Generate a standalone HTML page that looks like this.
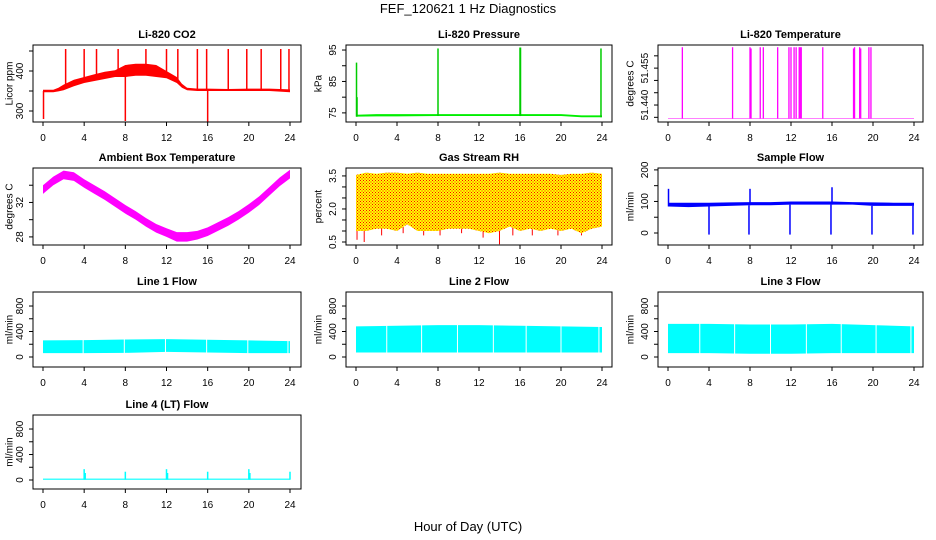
<!DOCTYPE html>
<html><head><meta charset="utf-8"><style>
body{margin:0;background:#fff}
svg{display:block;font-family:"Liberation Sans",sans-serif}
</style></head><body>
<svg id="c" width="936" height="540" viewBox="0 0 936 540">
<defs>
<pattern id="rhdots" width="3" height="3" patternUnits="userSpaceOnUse">
<rect width="3" height="3" fill="#ffff00"/><rect x="0" y="0" width="1" height="1" fill="#ff0000"/><rect x="1.5" y="1.5" width="1" height="1" fill="#ff0000"/>
</pattern>
</defs>
<text x="468" y="13" text-anchor="middle" font-size="13">FEF_120621  1 Hz Diagnostics</text>
<text x="468" y="531" text-anchor="middle" font-size="13">Hour of Day (UTC)</text>
</svg>
<script>
// ---- data ----
const xTicks = [0,4,8,12,16,20,24];
const co2Hours = [0,1,1.5,2,3,4,5,6,7,8,9,10,11,12,13,13.5,14,15,16,18,20,22,24];
const co2Lo = [347,347,349,352,362,370,375,380,385,385,388,388,385,382,370,358,352,350,350,350,350,350,347];
const co2Hi = [353,353,358,366,378,385,392,398,402,415,418,418,415,400,385,368,358,356,356,355,356,356,354];
const co2SpikeHours = [0.05,2.2,4.0,5.2,7.3,8.0,10.0,12.0,13.1,15.0,15.9,16.0,18.0,19.8,21.2,23.1,23.9];
const co2SpikeVals = [280,455,455,455,455,275,455,455,455,455,455,270,455,455,455,455,455];
const presHours = [0,2,4,8,12,16,20,22,24];
const presLo = [73.8,73.9,73.9,74,74,74,74,73.6,73.6];
const presHi = [74.4,74.6,74.6,74.6,74.6,74.6,74.6,74.2,74.2];
const presSpikeHours = [0.05,0.1,8.0,16.0,16.05,23.9];
const presSpikeVals = [91,80,95.5,95.8,95.8,95.5];
const ltHours = [0,24];
const ltBase = [51.4345,51.4345];
const ltSpikeHours = [1.4,6.3,8.0,8.1,9.0,9.3,10.7,11.8,12.0,12.3,12.5,12.8,12.9,13.0,15.1,18.1,18.2,18.7,18.8,19.6,19.8];
const ltSpikeVals = [51.4635,51.4635,51.4635,51.463,51.4635,51.4635,51.4635,51.4635,51.4635,51.4635,51.4635,51.4635,51.4635,51.4635,51.4635,51.463,51.4635,51.4635,51.463,51.4635,51.4635];
const tempHours = [0,1,2,3,4,5,6,7,8,9,10,11,12,13,14,15,16,17,18,19,20,21,22,23,24];
const tempMid = [33.5,34.5,35.2,35.0,34.2,33.5,32.8,32.0,31.2,30.5,29.7,29.0,28.5,28.0,28.0,28.2,28.6,29.2,29.8,30.5,31.3,32.2,33.3,34.4,35.3];
const tempHalf = [0.5,0.5,0.5,0.5,0.5,0.5,0.5,0.5,0.5,0.5,0.5,0.5,0.5,0.55,0.55,0.5,0.5,0.5,0.5,0.5,0.5,0.5,0.5,0.5,0.5];
const rhHours = [0,1,2,3,4,5,6,7,8,9,10,11,12,13,14,15,16,17,18,19,20,21,22,23,24];
const rhLo = [1.0,1.0,1.1,1.1,1.0,1.3,1.0,1.0,1.0,1.1,1.1,1.1,1.0,0.9,1.0,1.2,1.0,1.1,1.0,1.1,1.0,1.1,0.9,1.1,1.2];
const rhHi = [3.55,3.65,3.6,3.65,3.65,3.6,3.65,3.6,3.6,3.6,3.6,3.6,3.6,3.6,3.65,3.6,3.6,3.6,3.6,3.6,3.55,3.6,3.6,3.65,3.6];
const rhSpikeHours = [0.1,0.8,2.5,4.6,6.6,8.2,10.3,12.4,14.0,15.3,17.2,19.7,22.0];
const rhSpikeVals = [0.6,0.5,0.8,0.9,0.8,0.8,0.9,0.7,0.4,0.8,0.8,0.8,0.8];
const sfHours = [0,2,4,6,8,10,12,14,16,18,20,22,24];
const sfLo = [84,82,84,86,88,88,90,90,90,90,86,86,86];
const sfHi = [96,96,96,97,98,98,100,100,100,98,97,96,96];
const sfSpikeHours = [0.05,4.0,7.9,8.0,11.9,15.9,16.0,19.9,23.9];
const sfSpikeVals = [140,-5,-5,140,-5,-5,145,-5,-5];
const l1Hours = [0,4,8,12,16,20,24];
const l1Lo = [60,60,65,80,70,60,60];
const l1Hi = [260,265,275,280,270,260,250];
const l1GapHours = [3.9,7.9,11.9,15.9,19.9,23.8];
const l2Hours = [0,4,8,12,16,20,24];
const l2Lo = [70,70,70,70,70,70,70];
const l2Hi = [480,490,500,500,490,480,470];
const l2GapHours = [3.0,6.4,9.9,13.4,16.6,20.0,23.7];
const l3Hours = [0,4,8,12,16,20,24];
const l3Lo = [60,60,50,50,60,60,60];
const l3Hi = [520,520,510,510,520,500,480];
const l3GapHours = [3.1,6.5,10.0,13.5,16.9,20.3,23.7];
const l4Hours = [0,24];
const l4Lo = [5,5];
const l4Hi = [22,22];
const l4SpikeHours = [4.0,4.1,8.0,12.0,12.1,16.0,20.0,20.1,24.0];
const l4SpikeVals = [170,110,130,170,110,130,170,110,130];

// ---- layout ----
const NS="http://www.w3.org/2000/svg";
const svg=document.getElementById('c');
const cols=[{l:33,r:301,x0:43,x24:290,yl:10},{l:346,r:612,x0:356,x24:602,yl:319},{l:658,r:923,x0:668,x24:914,yl:631}];
const rows=[{t:45,b:122},{t:168,b:245},{t:292,b:367},{t:415,b:489}];
function mk(tag,attrs,parent){const e=document.createElementNS(NS,tag);for(const k in attrs)e.setAttribute(k,attrs[k]);(parent||svg).appendChild(e);return e;}

function panel(ci,ri,title,ylab,ymin,ymax,yticks,ylabels,name){
  const c=cols[ci],r=rows[ri];
  const g=mk('g',{});
  
  
  const xs=h=>c.x0+(c.x24-c.x0)*h/24;
  const ys=v=>r.b-(v-ymin)/(ymax-ymin)*(r.b-r.t);
  const t=mk('text',{x:(c.l+c.r)/2,y:r.t-7,'text-anchor':'middle','font-size':11,'font-weight':'bold'},g);
  t.textContent=title;
  
  
  const yl=mk('text',{x:c.yl,y:(r.t+r.b)/2,'text-anchor':'middle','font-size':10,transform:`rotate(-90 ${c.yl} ${(r.t+r.b)/2})`,'dominant-baseline':'middle'},g);
  yl.textContent=ylab;
  
  
  xTicks.forEach(h=>{
    mk('line',{x1:xs(h),x2:xs(h),y1:r.b,y2:r.b+4,stroke:'#000'},g);
    const tl=mk('text',{x:xs(h),y:r.b+19,'text-anchor':'middle','font-size':10},g);
    tl.textContent=h;
    
    
  });
  yticks.forEach(v=>{
    mk('line',{x1:c.l-4,x2:c.l,y1:ys(v),y2:ys(v),stroke:'#000'},g);
  });
  ylabels.forEach(s=>{
    const v=Number(s);
    const x=c.l-10,y=ys(v);
    const tl=mk('text',{x:x,y:y,'text-anchor':'middle','font-size':10,transform:`rotate(-90 ${x} ${y})`},g);
    tl.textContent=s;
    
    
  });
  const clipId='clip'+name;
  const cp=mk('clipPath',{id:clipId},g);mk('rect',{x:c.l,y:r.t,width:c.r-c.l,height:r.b-r.t},cp);
  const plot=mk('g',{'clip-path':`url(#${clipId})`},g);
  const box=mk('rect',{x:c.l,y:r.t,width:c.r-c.l,height:r.b-r.t,fill:'none',stroke:'#000'},g);
  
  
  return {g:plot,xs,ys,name};
}
function band(p,hours,lo,hi,fill){
  let pts=hours.map((h,i)=>p.xs(h)+','+p.ys(hi[i]));
  for(let i=hours.length-1;i>=0;i--)pts.push(p.xs(hours[i])+','+p.ys(lo[i]));
  const e=mk('polygon',{points:pts.join(' '),fill:fill},p.g);
  
  
}
function spikes(p,hours,vals,baseHours,baseVals,color,w){
  hours.forEach((h,i)=>{
    let j=0;while(j<baseHours.length-2&&baseHours[j+1]<h)j++;
    const f=(h-baseHours[j])/(baseHours[j+1]-baseHours[j]);
    const b=baseVals[j]+(baseVals[j+1]-baseVals[j])*f;
    const e=mk('line',{x1:p.xs(h),x2:p.xs(h),y1:p.ys(b),y2:p.ys(vals[i]),stroke:color,'stroke-width':w||1.5},p.g);
    
    
  });
}
function gaps(p,hours){
  hours.forEach(h=>{
    const e=mk('line',{x1:p.xs(h),x2:p.xs(h),y1:p.ys(-200),y2:p.ys(2000),stroke:'#fff','stroke-width':1},p.g);
    
    
  });
}

let p=panel(0,0,'Li-820 CO2','Licor ppm',272.5,465,[300,350,400,450],['300','400'],'co2');
band(p,co2Hours,co2Lo,co2Hi,'#ff0000');
spikes(p,co2SpikeHours,co2SpikeVals,co2Hours,co2Lo.map((v,i)=>(v+co2Hi[i])/2),'#ff0000',1.5);
p=panel(1,0,'Li-820 Pressure','kPa',72.1,96.6,[75,80,85,90,95],['75','85','95'],'pressure');
band(p,presHours,presLo,presHi,'#00ee00');
spikes(p,presSpikeHours,presSpikeVals,presHours,presLo,'#00cc00',1.5);
p=panel(2,0,'Li-820 Temperature','degrees C',51.4331,51.4644,[51.435,51.440,51.445,51.450,51.455,51.460],['51.440','51.455'],'li-temp');
band(p,ltHours,ltBase.map(v=>v-0.0001),ltBase.map(v=>v+0.0001),'#ff00ff');
spikes(p,ltSpikeHours,ltSpikeVals,ltHours,ltBase,'#ff00ff',1.3);
p=panel(0,1,'Ambient Box Temperature','degrees C',27.06,36.0,[28,30,32,34],['28','32'],'ambient-temp');
band(p,tempHours,tempMid.map((v,i)=>v-tempHalf[i]),tempMid.map((v,i)=>v+tempHalf[i]),'#ff00ff');
p=panel(1,1,'Gas Stream RH','percent',0.364,3.86,[0.5,1,1.5,2,2.5,3,3.5],['0.5','2.0','3.5'],'gas-rh');
band(p,rhHours,rhLo,rhHi,'url(#rhdots)');
spikes(p,rhSpikeHours,rhSpikeVals,rhHours,rhLo,'#ff0000',1);
p=panel(2,1,'Sample Flow','ml/min',-38,206,[0,50,100,150,200],['0','100','200'],'sample-flow');
band(p,sfHours,sfLo,sfHi,'#0000ff');
spikes(p,sfSpikeHours,sfSpikeVals,sfHours,sfLo,'#0000ff',1.5);
p=panel(0,2,'Line 1 Flow','ml/min',-157,1020,[0,200,400,600,800],['0','400','800'],'line1-flow');
band(p,l1Hours,l1Lo,l1Hi,'#00ffff');gaps(p,l1GapHours);
p=panel(1,2,'Line 2 Flow','ml/min',-157,1020,[0,200,400,600,800],['0','400','800'],'line2-flow');
band(p,l2Hours,l2Lo,l2Hi,'#00ffff');gaps(p,l2GapHours);
p=panel(2,2,'Line 3 Flow','ml/min',-157,1020,[0,200,400,600,800],['0','400','800'],'line3-flow');
band(p,l3Hours,l3Lo,l3Hi,'#00ffff');gaps(p,l3GapHours);
p=panel(0,3,'Line 4 (LT) Flow','ml/min',-141,1020,[0,200,400,600,800],['0','400','800'],'line4-flow');
band(p,l4Hours,l4Lo,l4Hi,'#00ffff');
spikes(p,l4SpikeHours,l4SpikeVals,l4Hours,l4Lo,'#00ffff',1.5);
</script>
</body></html>
